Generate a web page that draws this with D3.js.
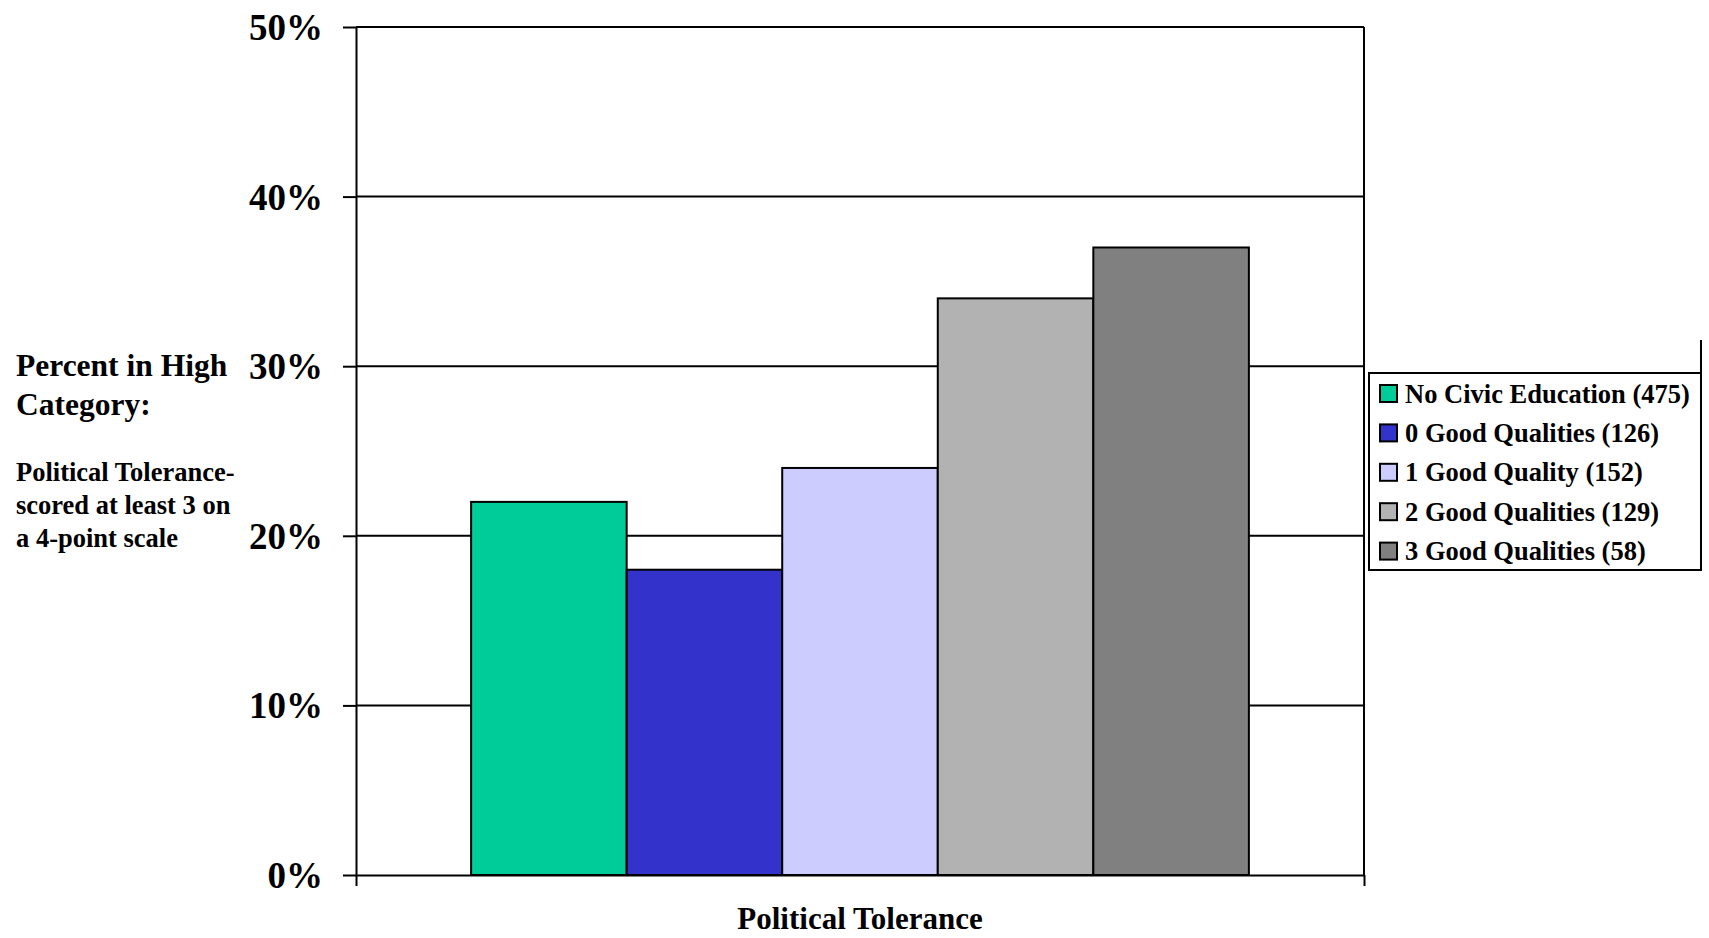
<!DOCTYPE html>
<html>
<head>
<meta charset="utf-8">
<script src="https://cdn.jsdelivr.net/npm/d3@7/dist/d3.min.js"></script>
<style>
  html, body { margin: 0; padding: 0; background: #fff; }
  svg { display: block; }
  text { font-family: "Liberation Serif", "Times New Roman", serif; font-weight: bold; fill: #000; }
</style>
</head>
<body>
<svg id="chart" width="1709" height="938"></svg>
<script>
// Chart data
const categories = ["Political Tolerance"];
const seriesNames = [
  "No Civic Education (475)",
  "0 Good Qualities (126)",
  "1 Good Quality (152)",
  "2 Good Qualities (129)",
  "3 Good Qualities (58)"
];
const seriesValues = [22, 18, 24, 34, 37];           // percent in high category
const seriesColors = ["#00CC99", "#3333CC", "#CCCCFF", "#B2B2B2", "#808080"];
const yTickValues = [0, 10, 20, 30, 40, 50];
const yTickLabels = ["0%", "10%", "20%", "30%", "40%", "50%"];
const yTitleLines = ["Percent in High", "Category:"];
const yNoteLines = ["Political Tolerance-", "scored at least 3 on", "a 4-point scale"];

const svg = d3.select("#chart");
const plot = { left: 356, right: 1364, top: 27, bottom: 875 };

const y = d3.scaleLinear().domain([0, 50]).range([plot.bottom, plot.top]);
const x0 = d3.scaleBand().domain(categories).range([plot.left, plot.right])
  .paddingInner(0).paddingOuter(0.148);
const x1 = d3.scaleBand().domain(seriesNames).range([0, x0.bandwidth()]).padding(0);

// Gridlines
svg.append("g")
  .selectAll("line.grid")
  .data(yTickValues.filter(v => v > 0))
  .join("line")
  .attr("x1", plot.left).attr("x2", plot.right)
  .attr("y1", d => y(d)).attr("y2", d => y(d))
  .attr("stroke", "#000").attr("stroke-width", 2);

// Plot frame (right edge)
svg.append("line")
  .attr("x1", plot.right).attr("x2", plot.right)
  .attr("y1", plot.top).attr("y2", plot.bottom)
  .attr("stroke", "#000").attr("stroke-width", 2);

// Bars
const group = svg.append("g").attr("transform", `translate(${x0(categories[0])},0)`);
group.selectAll("rect")
  .data(seriesNames.map((name, i) => ({ name, value: seriesValues[i], color: seriesColors[i] })))
  .join("rect")
  .attr("x", d => x1(d.name))
  .attr("y", d => y(d.value))
  .attr("width", x1.bandwidth())
  .attr("height", d => y(0) - y(d.value))
  .attr("fill", d => d.color)
  .attr("stroke", "#000")
  .attr("stroke-width", 2);

// Y axis
const yAxis = d3.axisLeft(y)
  .tickValues(yTickValues)
  .tickFormat((d, i) => yTickLabels[i])
  .tickSizeInner(13).tickSizeOuter(0).tickPadding(20);
const yg = svg.append("g").attr("transform", `translate(${plot.left},0)`).call(yAxis);
yg.select(".domain").attr("stroke", "#000").attr("stroke-width", 2);
yg.selectAll(".tick line").attr("stroke", "#000").attr("stroke-width", 2);
yg.selectAll(".tick text")
  .attr("font-family", "'Liberation Serif', 'Times New Roman', serif")
  .attr("font-weight", "bold")
  .attr("font-size", 37)
  .attr("fill", "#000")
  .attr("dy", "0.34em");

// X axis with tick marks at the category boundaries
const xAxis = d3.axisBottom(d3.scaleLinear().domain([0, 1]).range([plot.left, plot.right]))
  .tickValues([0, 1]).tickFormat("").tickSizeInner(11).tickSizeOuter(0);
const xg = svg.append("g").attr("transform", `translate(0,${plot.bottom})`).call(xAxis);
xg.select(".domain").attr("stroke", "#000").attr("stroke-width", 2);
xg.selectAll(".tick line").attr("stroke", "#000").attr("stroke-width", 2);

svg.append("text")
  .attr("x", x0(categories[0]) + x0.bandwidth() / 2)
  .attr("y", 929)
  .attr("text-anchor", "middle")
  .attr("font-size", 31)
  .text(categories[0]);

// Y axis titles
svg.append("g").selectAll("text")
  .data(yTitleLines).join("text")
  .attr("x", 16).attr("y", (d, i) => 376 + i * 39)
  .attr("font-size", 31.5)
  .text(d => d);
svg.append("g").selectAll("text")
  .data(yNoteLines).join("text")
  .attr("x", 16).attr("y", (d, i) => 481 + i * 33)
  .attr("font-size", 26.5)
  .text(d => d);

// Outer chart-area edge on the right
svg.append("line")
  .attr("x1", 1701).attr("x2", 1701)
  .attr("y1", 340).attr("y2", 571)
  .attr("stroke", "#000").attr("stroke-width", 2);

// Legend
const legend = svg.append("g");
legend.append("rect")
  .attr("x", 1369).attr("y", 373)
  .attr("width", 332).attr("height", 197)
  .attr("fill", "#fff").attr("stroke", "#000").attr("stroke-width", 2);
const items = legend.selectAll("g.item")
  .data(seriesNames.map((name, i) => ({ name, color: seriesColors[i] })))
  .join("g")
  .attr("transform", (d, i) => `translate(1380,${393.5 + i * 39.4})`);
items.append("rect")
  .attr("x", 0).attr("y", -8.5).attr("width", 17).attr("height", 17)
  .attr("fill", d => d.color).attr("stroke", "#000").attr("stroke-width", 2);
items.append("text")
  .attr("x", 25).attr("y", 0).attr("dy", "0.34em")
  .attr("font-size", 26.5)
  .text(d => d.name);
</script>
</body>
</html>
